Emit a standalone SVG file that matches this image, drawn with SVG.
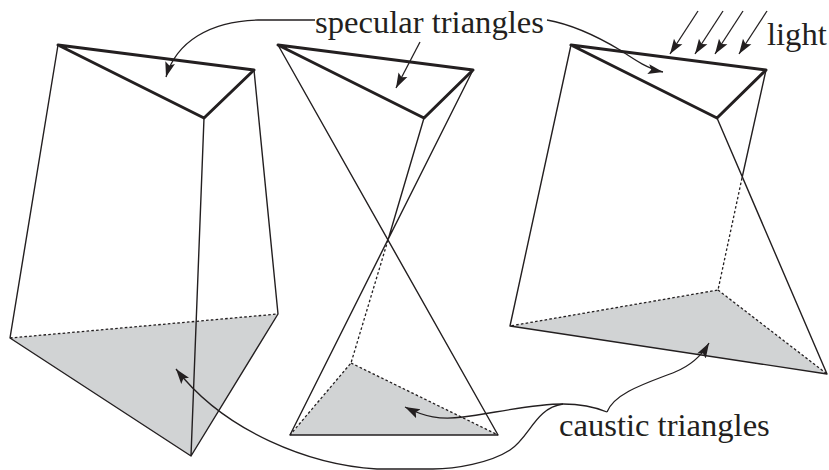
<svg xmlns="http://www.w3.org/2000/svg" width="829" height="470" viewBox="0 0 829 470">
<style>
text{font-family:"Liberation Serif","Times New Roman",serif;font-size:32.6px;fill:#231f20}
.fill{fill:#d1d3d4;stroke:none}
.thin{fill:none;stroke:#231f20;stroke-width:1.4;stroke-linejoin:round}
.thick{fill:none;stroke:#231f20;stroke-width:3;stroke-linejoin:round}
.dot{fill:none;stroke:#231f20;stroke-width:1.3;stroke-dasharray:2.6 2.2}
.arrow{fill:none;stroke:#231f20;stroke-width:1.3;marker-end:url(#ah)}
</style>
<defs>
<marker id="ah" markerUnits="userSpaceOnUse" markerWidth="16" markerHeight="12" refX="15" refY="5" orient="auto" viewBox="0 0 16 10">
<path d="M0,0 L15,5 L0,10 L3,5 Z" fill="#231f20"/>
</marker>
</defs>
<g id="prism-left">
<polygon class="fill" points="10,338 278,314 191,456"/>
<path class="dot" d="M10,338 L278,314"/>
<path class="thin" d="M58,45 L10,338 L191,456 L278,314 L254,70 M204,118 L191,456"/>
<path class="thick" d="M58,45 L254,70 L204,118 Z"/>
</g>
<g id="prism-middle">
<polygon class="fill" points="351,363 290,435 498,435"/>
<path class="dot" d="M388,240 L351,363 L290,435 M351,363 L498,435"/>
<path class="thin" d="M278,45 L498,435 L290,435 L473,70 M424,118 L388,240"/>
<path class="thick" d="M278,45 L473,70 L424,118 Z"/>
</g>
<g id="prism-right">
<polygon class="fill" points="510,326 718,290 827,374"/>
<path class="dot" d="M742,178 L718,290 L510,326 M718,290 L827,374"/>
<path class="thin" d="M571,45 L510,326 L827,374 L717,118 M766,70 L742,178"/>
<path class="thick" d="M571,45 L766,70 L717,118 Z"/>
</g>
<g id="connectors">
<path class="arrow" d="M315,20 L258,20 C210,21 176,42 166,77"/>
<path class="arrow" d="M420,42 L396,88"/>
<path class="arrow" d="M547,20 C575,25 600,38 620,50 C635,60 648,69 663,72"/>
<path class="arrow" d="M698,11 L670,54"/>
<path class="arrow" d="M723,11 L695,54"/>
<path class="arrow" d="M743,11 L715,54"/>
<path class="arrow" d="M767,11 L739,54"/>
<path class="arrow" d="M607,412 C615,392 650,382 675,372 C692,365 702,355 709,343"/>
<path class="arrow" d="M607,412 C590,405 575,404 563,404 C530,404 490,414 463,417 C440,420 425,417 405,407"/>
<path class="arrow" d="M563,404 C535,408 530,437 510,450 C490,463 455,469 433,469 L377,469 C310,465 225,432 176,369"/>
</g>
<g id="labels">
<text x="315" y="33">specular triangles</text>
<text x="767" y="45">light</text>
<text x="559" y="436">caustic triangles</text>
</g>
</svg>
